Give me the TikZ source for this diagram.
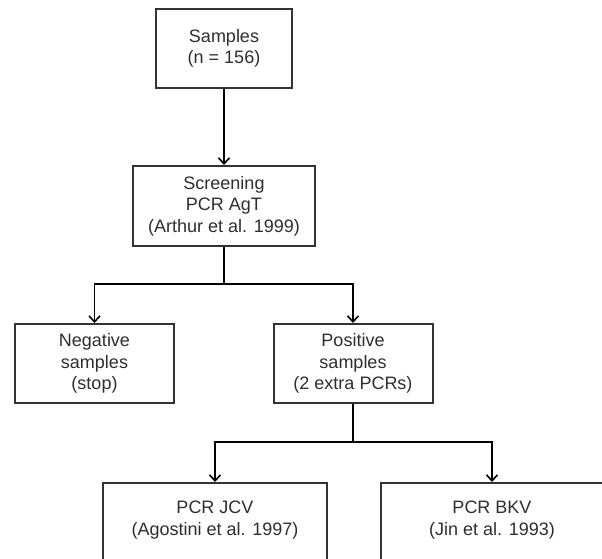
\documentclass[tikz,border=0pt]{standalone}
\usepackage{fontspec}
\setmainfont{Liberation Sans}
\usetikzlibrary{arrows.meta}
\definecolor{txt}{HTML}{2E2E2E}
\definecolor{bord}{HTML}{333333}
\begin{document}
\begin{tikzpicture}[x=1pt,y=-1pt,
  box/.style={draw=bord,line width=2pt,fill=white,inner sep=0pt,
    text=txt,align=center,font=\fontsize{18}{21.5}\selectfont},
  lbl/.style={text=txt,align=center,inner sep=0pt,font=\fontsize{18}{21.5}\selectfont},
  conn/.style={draw=black,line width=1.6pt},
  arr/.style={conn,-{Straight Barb[length=6pt,width=11pt,line width=1.6pt]}}]
\useasboundingbox (0,0) rectangle (602,559);
\clip (0,0) rectangle (602,559);
\node[box,minimum width=136pt,minimum height=79pt] (samples) at (224,48.5) {Samples\\(n = 156)};
\node[box,minimum width=182pt,minimum height=80pt] (screen) at (224,206) {Screening\\PCR AgT\\(Arthur et al. 1999)};
\node[box,minimum width=159pt,minimum height=79pt] (neg) at (94.5,363.5) {Negative\\samples\\(stop)};
\node[box,minimum width=159pt,minimum height=79pt] (pos) at (353,363.5) {Positive\\samples\\(2 extra PCRs)};
\node[box,minimum width=224pt,minimum height=120pt,anchor=north] (jcv) at (215,482) {};
\node[box,minimum width=222pt,minimum height=120pt,anchor=north] (bkv) at (492,482) {};
\node[lbl] (jcvt) at (215,520) {PCR JCV\\(Agostini et al. 1997)};
\node[lbl] (bkvt) at (492,520) {PCR BKV\\(Jin et al. 1993)};
\coordinate (j1) at (224,284);
\coordinate (j2) at (353,442);
\draw[arr] (samples.south) -- (screen.north);
\draw[conn] (screen.south) -- (j1);
\draw[arr] (j1) -| (neg.north);
\draw[arr] (j1) -| (pos.north);
\draw[conn] (pos.south) -- (j2);
\draw[arr] (j2) -| (jcv.north);
\draw[arr] (j2) -| (bkv.north);
\end{tikzpicture}
\end{document}
